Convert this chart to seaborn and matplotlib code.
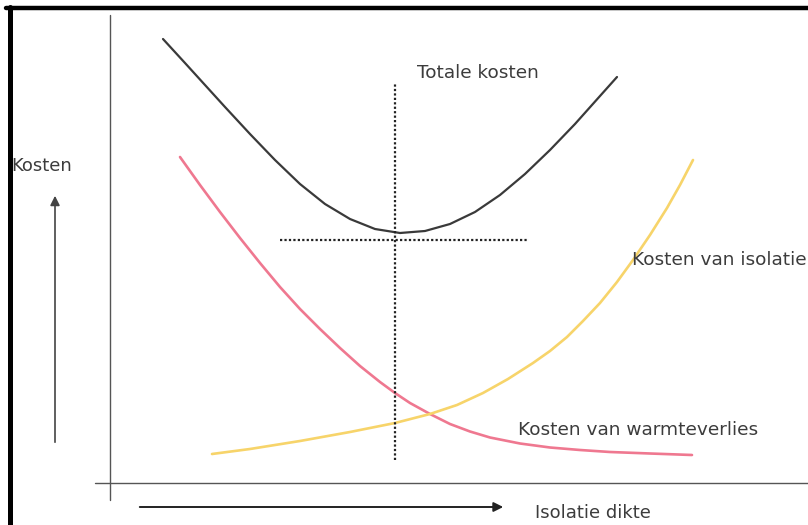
import matplotlib.pyplot as plt
import numpy as np
import pandas as pd
import seaborn as sns
from matplotlib.lines import Line2D

# thickness of insulation (x) and costs (y)
total_x = [5.3, 7.5, 9.5, 11.5, 14.0, 16.5, 19.0, 21.5, 24.0, 26.5,
           29.0, 31.5, 34.0, 36.5, 39.0, 41.5, 44.0, 46.5, 49.0, 50.7]
total_y = [44.4, 42.0, 39.8, 37.6, 34.9, 32.3, 29.9, 27.9, 26.4, 25.4,
           25.0, 25.2, 25.9, 27.1, 28.8, 30.9, 33.3, 35.9, 38.7, 40.6]

heatloss_x = [7.0, 9.0, 11.0, 13.0, 15.0, 17.0, 19.0, 21.0, 23.0, 25.0,
              27.0, 28.5, 30.0, 32.0, 34.0, 36.0, 38.0, 41.0, 44.0, 47.0,
              50.0, 54.0, 58.2]
heatloss_y = [32.6, 29.8, 27.1, 24.5, 22.0, 19.6, 17.4, 15.4, 13.5, 11.7,
              10.1, 9.0, 8.0, 6.9, 5.9, 5.15, 4.55, 3.95, 3.55, 3.3,
              3.1, 2.95, 2.8]

insulation_x = [10.2, 14.0, 19.0, 24.0, 28.5, 32.0, 34.7, 37.3, 39.8, 42.3,
                44.0, 45.7, 47.3, 49.0, 50.7, 52.3, 54.0, 55.7, 57.0, 58.3]
insulation_y = [2.9, 3.4, 4.2, 5.1, 6.0, 6.9, 7.8, 9.0, 10.4, 12.0,
                13.2, 14.6, 16.2, 18.0, 20.1, 22.3, 24.8, 27.5, 29.8, 32.3]

# optimum (minimum of total costs) and the guide lines through it
opt_x = 28.5
opt_y = 24.3
hline_span = [17.0, 41.7]
vline_span = [2.3, 40.0]

labels = {
    "total": "Totale kosten",
    "insulation": "Kosten van isolatie",
    "heatloss": "Kosten van warmteverlies",
    "ylabel": "Kosten",
    "xlabel": "Isolatie dikte",
}

sns.set_theme(style="white")
plt.rcParams["font.family"] = ["DejaVu Sans"]

fig = plt.figure(figsize=(8.08, 5.25), dpi=100)
ax = fig.add_axes([0, 0, 1, 1])
ax.set_xlim(-11.0, 69.8)
ax.set_ylim(-4.2, 48.3)
ax.axis("off")

df_total = pd.DataFrame({"x": total_x, "y": total_y})
df_heat = pd.DataFrame({"x": heatloss_x, "y": heatloss_y})
df_ins = pd.DataFrame({"x": insulation_x, "y": insulation_y})

sns.lineplot(data=df_total, x="x", y="y", ax=ax, color="#3a3a3a",
             linewidth=1.6, sort=False, solid_joinstyle="round")
sns.lineplot(data=df_heat, x="x", y="y", ax=ax, color="#ef7890",
             linewidth=1.9, sort=False, solid_joinstyle="round")
sns.lineplot(data=df_ins, x="x", y="y", ax=ax, color="#f7d46a",
             linewidth=1.9, sort=False, solid_joinstyle="round")

# dotted lines through the optimum
ax.plot(hline_span, [opt_y, opt_y], color="#222222", linewidth=1.6,
        linestyle=(0, (1, 1)))
ax.plot([opt_x, opt_x], vline_span, color="#222222", linewidth=1.6,
        linestyle=(0, (1, 1)))

# hand-drawn style axes
ax.plot([0, 0], [-1.7, 46.8], color="#555555", linewidth=1.0)
ax.plot([-1.5, 69.8], [0, 0], color="#555555", linewidth=1.0)

# direction arrows
ax.annotate("", xy=(-5.5, 29.0), xytext=(-5.5, 3.8),
            arrowprops=dict(arrowstyle="-|>", color="#444444", lw=1.2,
                            mutation_scale=14))
ax.annotate("", xy=(39.6, -2.4), xytext=(2.7, -2.4),
            arrowprops=dict(arrowstyle="-|>", color="#222222", lw=1.4,
                            mutation_scale=14))

text_color = "#3c3c3c"
ax.text(30.7, 41.0, labels["total"], fontsize=13.3, color=text_color,
        va="center", ha="left")
ax.text(52.2, 22.3, labels["insulation"], fontsize=13.3, color=text_color,
        va="center", ha="left")
ax.text(40.8, 5.3, labels["heatloss"], fontsize=13.3, color=text_color,
        va="center", ha="left")
ax.text(-9.9, 31.7, labels["ylabel"], fontsize=13.0, color=text_color,
        va="center", ha="left")
ax.text(42.5, -3.0, labels["xlabel"], fontsize=13.0, color=text_color,
        va="center", ha="left")

# black frame from the scan (top and left edge)
fig.add_artist(Line2D([0.008, 1.0], [0.984, 0.984], color="black",
                      linewidth=3.2, transform=fig.transFigure))
fig.add_artist(Line2D([0.0125, 0.0125], [0.0, 0.986], color="black",
                      linewidth=3.6, transform=fig.transFigure))

fig.savefig("out.png", dpi=100, facecolor="white")
